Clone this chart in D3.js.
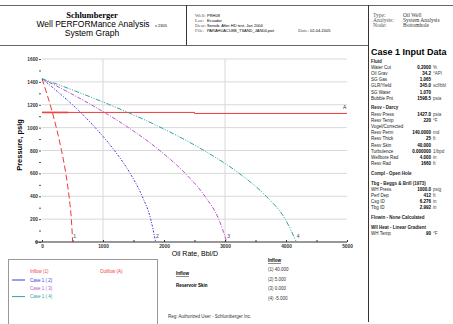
<!DOCTYPE html>
<html>
<head>
<meta charset="utf-8">
<script src="https://cdnjs.cloudflare.com/ajax/libs/d3/7.8.5/d3.min.js"></script>
<style>
  body { margin: 0; background: #fff; }
  svg { display: block; font-family: "Liberation Sans", Arial, sans-serif; }
</style>
</head>
<body>
<svg id="chart" width="453" height="324"></svg>
<script>
// pressures (psig) the inflow curves were read at
const pressures = [1427, 1400, 1300, 1200, 1000, 800, 600, 400, 200, 0];
// oil rate (Bbl/D) for each inflow case at those pressures
const inflow1 = [0, 17, 77, 134, 235, 320, 390, 443, 481, 503];
const inflow2 = [0, 63, 287, 500, 872, 1187, 1445, 1642, 1782, 1862];
const inflow3 = [0, 103, 467, 806, 1418, 1930, 2348, 2670, 2897, 3030];
const inflow4 = [0, 142, 642, 1109, 1952, 2656, 3232, 3674, 3987, 4170];
const inflowNames = ['1', '2', '3', '4'];
const skinValues = ['40.000', '5.000', '0.000', '-5.000'];

// outflow curve (A)
const outflowRate = [0, 2500, 2500, 5000];
const outflowPress = [1133, 1133, 1124, 1124];
const outflowLowRate = [0, 430];

const xTicks = [0, 1000, 2000, 3000, 4000, 5000];
const yTicks = [0, 200, 400, 600, 800, 1000, 1200, 1400, 1600];

const headerMid = [['Well:', 'PRH08'], ['Loc:', 'Ecuador'], ['Desc:', 'Sensib. After HD test, Jan 2004'], ['File:', 'PARAHUACU8B_TSAND_JAN04.pwt']];
const headerRight = [['Type:', 'Oil Well'], ['Analysis:', 'System Analysis'], ['Node:', 'Bottomhole']];

// right panel rows: [label, value, unit] ; header rows have value null
const inputRows = [
  ['Fluid', null], ['Water Cut', '0.2000', '%'], ['Oil Grav', '34.2', '°API'], ['SG Gas', '1.065', ''],
  ['GLR/Yield', '345.0', 'scf/bbl'], ['SG Water', '1.070', ''], ['Bubble Pnt', '1598.5', 'psia'],
  ['Resv - Darcy', null], ['Resv Press', '1427.0', 'psia'], ['Resv Temp', '220', '°F'], ['Vogel/Corrected', '', ''],
  ['Resv Perm', '140.0000', 'md'], ['Resv Thick', '25', 'ft'], ['Resv Skin', '40.000', ''],
  ['Turbulence', '0.000000', '1/bpd'], ['Wellbore Rad', '4.000', 'in'], ['Resv Rad', '1660', 'ft'],
  ['Compl - Open Hole', null],
  ['Tbg - Beggs & Brill (1973)', null], ['WH Press', '1000.0', 'psig'], ['Perf Dep', '412', 'ft'],
  ['Csg ID', '6.276', 'in'], ['Tbg ID', '2.992', 'in'],
  ['Flowin - None Calculated', null],
  ['Wll Heat - Linear Gradient', null], ['WH Temp', '90', '°F']
];

const colors = ['#ee3a3a', '#3a3ae0', '#b455c8', '#2fa3a3'];
const dashes = ['6,3', '2,1.5,1,1.5', '4,1.5,1,1.5', '5,1.5,1,1.5,1,1.5'];

const svg = d3.select('#chart');

// ---- frame lines
svg.append('line').attr('x1', 0).attr('x2', 453).attr('y1', 5.5).attr('y2', 5.5).attr('stroke', '#666');
svg.append('line').attr('x1', 0).attr('x2', 368).attr('y1', 45.5).attr('y2', 45.5).attr('stroke', '#666');
svg.append('line').attr('x1', 186.5).attr('x2', 186.5).attr('y1', 5).attr('y2', 45).attr('stroke', '#333');
svg.append('line').attr('x1', 368.5).attr('x2', 368.5).attr('y1', 5).attr('y2', 322).attr('stroke', '#333');

// ---- header
svg.append('text').attr('x', 92).attr('y', 18).attr('text-anchor', 'middle')
  .style('font-family', '"Liberation Serif", serif').style('font-weight', 'bold').style('font-size', '8.5px')
  .text('Schlumberger');
svg.append('text').attr('x', 93).attr('y', 27).attr('text-anchor', 'middle').style('font-size', '8.5px')
  .text('Well PERFORMance Analysis');
svg.append('text').attr('x', 92).attr('y', 36).attr('text-anchor', 'middle').style('font-size', '8.5px')
  .text('System Graph');
svg.append('text').attr('x', 155).attr('y', 27).style('font-size', '4px').text('v 2305');

headerMid.forEach((r, i) => {
  svg.append('text').attr('x', 195).attr('y', 17 + i * 5).style('font-family', '"Liberation Serif", serif')
    .style('font-size', '5px').attr('fill', '#555').text(r[0]);
  svg.append('text').attr('x', 207).attr('y', 17 + i * 5).style('font-size', '4px').text(r[1]);
});
svg.append('text').attr('x', 298).attr('y', 32).style('font-family', '"Liberation Serif", serif')
  .style('font-size', '5px').attr('fill', '#555').text('Date:');
svg.append('text').attr('x', 310).attr('y', 32).style('font-size', '4px').text('02-04-2005');

headerRight.forEach((r, i) => {
  svg.append('text').attr('x', 373).attr('y', 17 + i * 5).style('font-family', '"Liberation Serif", serif')
    .style('font-size', '5.5px').attr('fill', '#555').text(r[0]);
  svg.append('text').attr('x', 403).attr('y', 17 + i * 5).style('font-family', '"Liberation Serif", serif')
    .style('font-size', '5.5px').attr('fill', '#333').text(r[1]);
});

// ---- plot
const x = d3.scaleLinear().domain([0, 5000]).range([42, 347]);
const y = d3.scaleLinear().domain([0, 1600]).range([242, 59]);

// grid
svg.append('g').selectAll('line').data(yTicks.filter(d => d > 0)).join('line')
  .attr('x1', x(0)).attr('x2', x(5000)).attr('y1', d => y(d)).attr('y2', d => y(d))
  .attr('stroke', '#d8d8d8').attr('stroke-width', 1);
svg.append('g').selectAll('line').data([1000, 3000]).join('line')
  .attr('x1', d => x(d)).attr('x2', d => x(d)).attr('y1', y(1600)).attr('y2', y(0))
  .attr('stroke', '#d8d8d8').attr('stroke-width', 1);

// y axis
const yAxis = svg.append('g').attr('transform', `translate(${x(0) - 1},0)`)
  .call(d3.axisLeft(y).tickValues(d3.range(0, 1601, 100)).tickSize(2).tickPadding(1)
    .tickFormat(d => yTicks.includes(d) ? d : ''));
yAxis.select('.domain').remove();
yAxis.selectAll('text').style('font-size', '4.8px').style('font-weight', 'bold').attr('fill', '#333');
yAxis.selectAll('line').attr('stroke', '#555');

// x axis
const xAxis = svg.append('g').attr('transform', `translate(0,${y(0)})`)
  .call(d3.axisBottom(x).tickValues(d3.range(0, 5001, 500)).tickSize(-2).tickPadding(3)
    .tickFormat(d => xTicks.includes(d) ? d : ''));
xAxis.select('.domain').attr('d', `M35,0H${x(5000)}`).attr('stroke', '#333').attr('stroke-width', 1.2);
xAxis.selectAll('text').style('font-size', '4.8px').style('font-weight', 'bold').attr('fill', '#333');
xAxis.selectAll('line').attr('stroke', '#333');

svg.append('text').attr('x', 195).attr('y', 256).attr('text-anchor', 'middle').style('font-size', '7px')
  .text('Oil Rate, Bbl/D');
svg.append('text').attr('transform', 'translate(22,145) rotate(-90)').attr('text-anchor', 'middle')
  .style('font-size', '7.5px').style('font-weight', 'bold').text('Pressure, psig');

// outflow
const line = d3.line().x(d => x(d[0])).y(d => y(d[1]));
svg.append('path').datum(outflowLowRate.map(r => [r, outflowPress[0]]))
  .attr('d', line).attr('fill', 'none').attr('stroke', '#f5a5a5').attr('stroke-width', 2.2);
svg.append('path').datum(outflowRate.map((r, i) => [r, outflowPress[i]]))
  .attr('d', line).attr('fill', 'none').attr('stroke', colors[0]).attr('stroke-width', 1);
svg.append('text').attr('x', x(5000) - 4).attr('y', y(outflowPress[3]) - 4).style('font-size', '5px')
  .attr('fill', '#333').text('A');

// inflow curves
const curve = d3.line().x(d => x(d[0])).y(d => y(d[1])).curve(d3.curveMonotoneX);
[inflow1, inflow2, inflow3, inflow4].forEach((rates, k) => {
  const pts = rates.map((r, i) => [r, pressures[i]]);
  svg.append('path').datum(pts).attr('d', curve).attr('fill', 'none')
    .attr('stroke', colors[k]).attr('stroke-width', 1).attr('stroke-dasharray', dashes[k]);
  svg.append('text').attr('x', x(rates[rates.length - 1]) + 0.5).attr('y', y(0) - 4)
    .style('font-size', '5px').attr('fill', '#444').text(inflowNames[k]);
});

// ---- legend box
svg.append('rect').attr('x', 8.5).attr('y', 259.5).attr('width', 149).attr('height', 80)
  .attr('fill', 'none').attr('stroke', '#999');
svg.append('text').attr('x', 30).attr('y', 273).style('font-size', '4.5px').attr('fill', colors[0]).text('Inflow (1)');
svg.append('text').attr('x', 100).attr('y', 273).style('font-size', '4.5px').attr('fill', colors[0]).text('Outflow (A)');
[1, 2, 3].forEach((k, i) => {
  const yy = 280 + i * 8.3;
  if (k !== 2) {
    svg.append('line').attr('x1', 12).attr('x2', 25).attr('y1', yy).attr('y2', yy)
      .attr('stroke', colors[k]).attr('stroke-width', 1);
  }
  svg.append('text').attr('x', 30).attr('y', yy + 1.6).style('font-size', '4.5px').attr('fill', colors[k])
    .text(`Case 1 ( ${k + 1})`);
});

// sensitivity text
svg.append('text').attr('x', 176).attr('y', 275).style('font-size', '4.5px').style('font-weight', 'bold')
  .style('text-decoration', 'underline').text('Inflow');
svg.append('text').attr('x', 176).attr('y', 286.5).style('font-size', '4.5px').style('font-weight', 'bold')
  .text('Reservoir Skin');
svg.append('text').attr('x', 268).attr('y', 262).style('font-size', '4.5px').style('font-weight', 'bold')
  .style('text-decoration', 'underline').text('Inflow');
skinValues.forEach((v, i) => {
  svg.append('text').attr('x', 268).attr('y', 271 + i * 9.6).style('font-size', '4.5px').attr('fill', '#333')
    .text(`(${i + 1})  ${v}`);
});
svg.append('text').attr('x', 168).attr('y', 318).style('font-size', '4.5px').attr('fill', '#333')
  .text('Reg: Authorized User - Schlumberger Inc.');

// ---- input data panel
svg.append('text').attr('x', 371).attr('y', 55).style('font-size', '9px').style('font-weight', 'bold')
  .text('Case 1 Input Data');
let yy = 62.5;
inputRows.forEach((r, i) => {
  if (r[1] === null && i > 0) yy += 3.5;
  const t = svg.append('text').attr('x', 371).attr('y', yy).style('font-size', '4.5px').attr('fill', '#222').text(r[0]);
  if (r[1] === null) {
    t.style('font-weight', 'bold');
  } else {
    svg.append('text').attr('x', 431).attr('y', yy).attr('text-anchor', 'end')
      .style('font-size', '4.5px').style('font-weight', 'bold').text(r[1]);
    svg.append('text').attr('x', 433).attr('y', yy).style('font-size', '4.5px').attr('fill', '#444').text(r[2]);
  }
  yy += 6.2;
});
</script>
</body>
</html>
